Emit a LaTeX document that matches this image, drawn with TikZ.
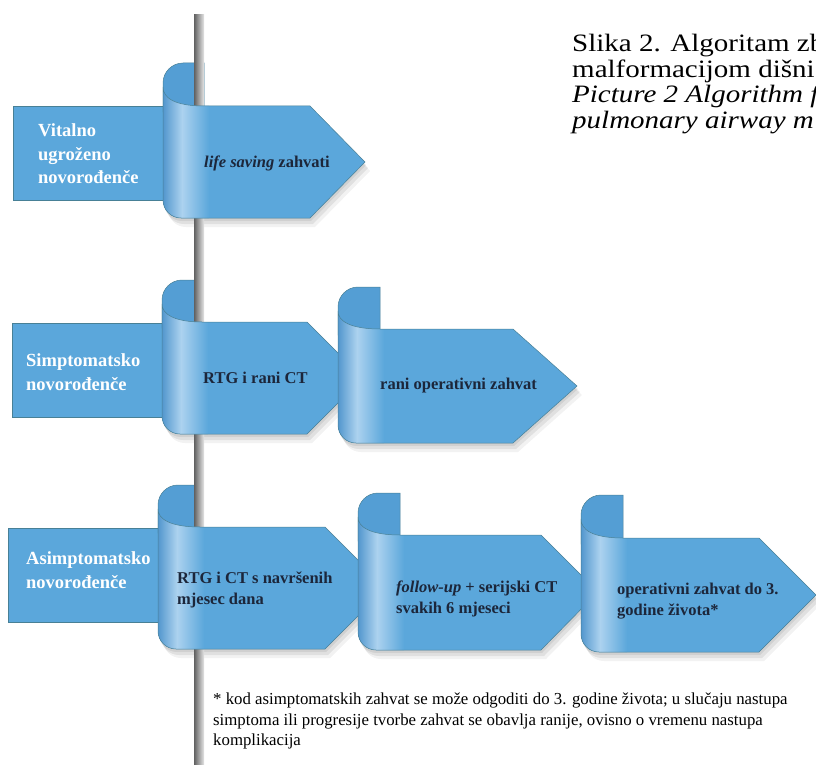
\documentclass[tikz,border=0pt]{standalone}
\usepackage{fontspec}
\setmainfont{Liberation Serif}
\definecolor{rb}{RGB}{91,167,219}
\definecolor{rbback}{RGB}{84,158,212}
\definecolor{rbdark}{RGB}{78,148,204}
\definecolor{rblight}{RGB}{172,210,239}
\definecolor{txtc}{RGB}{28,38,58}
\definecolor{edgec}{RGB}{72,128,150}
\newcommand\frontpath[8]{(#1,#2+24) -- (#1,#5-18) .. controls (#1,#5-8) and (#1+8,#5) .. (#1+18,#5) -- (#6,#5) -- (#7,#8) -- (#6,#4) -- (#3,#4) .. controls (#1+12,#4) and (#1,#4-8) .. (#1,#2+24) -- cycle}
\newcommand\backpath[5]{(#1,#2+20) .. controls (#1,#2+9) and (#1+9,#2) .. (#1+20,#2) -- (#3,#2) -- (#3,#4+6) -- (#1,#4+6) -- cycle}
% L T R FT B C X M
\newcommand\arrowshadow[8]{%
  \fill[black,opacity=0.07] [shift={(1,3)}] \frontpath{#1}{#2}{#3}{#4}{#5}{#6}{#7}{#8};
  \fill[black,opacity=0.07] [shift={(3,6)}] \frontpath{#1}{#2}{#3}{#4}{#5}{#6}{#7}{#8};
  \fill[black,opacity=0.05] [shift={(5,9)}] \frontpath{#1}{#2}{#3}{#4}{#5}{#6}{#7}{#8};}
\newcommand\arrowback[8]{%
  \fill[rbback,draw=edgec,line width=0.5pt] \backpath{#1}{#2}{#3}{#4}{#5};}
\newcommand\arrowfront[8]{%
  \fill[rb] \frontpath{#1}{#2}{#3}{#4}{#5}{#6}{#7}{#8};
  \begin{scope}
    \clip \frontpath{#1}{#2}{#3}{#4}{#5}{#6}{#7}{#8};
    \shade[left color=rbdark,right color=rblight] (#1-1,#2) rectangle (#1+19,#5+1);
    \shade[left color=rblight,right color=rb] (#1+19,#2) rectangle (#1+46,#5+1);
  \end{scope}
  \draw[edgec,line width=0.5pt] \frontpath{#1}{#2}{#3}{#4}{#5}{#6}{#7}{#8};}
\newcommand\wide[1]{\scalebox{1.16}[1]{#1}}
\tikzset{
  leftbox/.style={fill=rb,draw=edgec,line width=0.4pt},
  lefttxt/.style={text=white,font=\fontsize{18.5}{23.5}\selectfont\bfseries,align=left,anchor=west,inner sep=0pt},
  arrtxt/.style={text=txtc,font=\fontsize{16.5}{21}\selectfont\bfseries,align=left,anchor=west,inner sep=0pt},
  titletxt/.style={text=black,font=\fontsize{25}{25}\selectfont,anchor=base west,inner sep=0pt},
  notetxt/.style={text=black,font=\fontsize{16.8}{20.5}\selectfont,align=left,anchor=north west,inner sep=0pt}
}
\begin{document}
\begin{tikzpicture}[x=1pt,y=-1pt]
\useasboundingbox (0,0) rectangle (816,765);
\fill[white] (0,0) rectangle (816,765);
\clip (0,0) rectangle (816,765);

% left boxes
\fill[leftbox] (13,106) rectangle (170,200);
\fill[leftbox] (12,323) rectangle (170,417);
\fill[leftbox] (8,528) rectangle (165,622);

% shadows
\arrowshadow{163}{63}{204}{106}{218}{310}{365}{162}
\arrowshadow{162}{280}{202}{322}{434}{307}{363}{378}
\arrowshadow{338}{287}{380}{329}{443}{513}{577}{386}
\arrowshadow{158}{485}{200}{527}{649}{325}{386}{588}
\arrowshadow{358}{493}{400}{535}{650}{541}{598}{592}
\arrowshadow{581}{495}{623}{538}{652}{759}{816}{595}

% backs
\arrowback{163}{63}{204}{106}{218}{310}{365}{162}
\arrowback{162}{280}{202}{322}{434}{307}{363}{378}
\arrowback{338}{287}{380}{329}{443}{513}{577}{386}
\arrowback{158}{485}{200}{527}{649}{325}{386}{588}
\arrowback{358}{493}{400}{535}{650}{541}{598}{592}
\arrowback{581}{495}{623}{538}{652}{759}{816}{595}

% pole
\shade[left color=black!62,right color=black!10] (194,15) rectangle (204,765);

% fronts
\arrowfront{163}{63}{204}{106}{218}{310}{365}{162}
\arrowfront{162}{280}{202}{322}{434}{307}{363}{378}
\arrowfront{338}{287}{380}{329}{443}{513}{577}{386}
\arrowfront{158}{485}{200}{527}{649}{325}{386}{588}
\arrowfront{358}{493}{400}{535}{650}{541}{598}{592}
\arrowfront{581}{495}{623}{538}{652}{759}{816}{595}

% left texts
\node[lefttxt] (l1) at (38,154) {Vitalno\\ugroženo\\novorođenče};
\node[lefttxt] (l2) at (26,372) {Simptomatsko\\novorođenče};
\node[lefttxt] (l3) at (26,570) {Asimptomatsko\\novorođenče};

% arrow texts
\node[arrtxt] (a1) at (204,163) {\textit{life saving} zahvati};
\node[arrtxt] (a2) at (203,378) {RTG i rani CT};
\node[arrtxt] (a3) at (380,386) {rani operativni zahvat};
\node[arrtxt] (a4) at (177,590) {RTG i CT s navršenih\\mjesec dana};
\node[arrtxt] (a5) at (396,599) {\textit{follow-up} + serijski CT\\svakih 6 mjeseci};
\node[arrtxt] (a6) at (617,601) {operativni zahvat do 3.\\godine života*};

% title
\node[titletxt] (t1) at (572,52) {\wide{Slika 2. Algoritam zb}};
\node[titletxt] (t2) at (572,77.5) {\wide{malformacijom dišni}};
\node[titletxt] (t3) at (572,103) {\wide{\textit{Picture 2 Algorithm f}}};
\node[titletxt] (t4) at (572,128.5) {\wide{\textit{pulmonary airway m}}};

% footnote
\node[notetxt] (fn) at (213,693) {* kod asimptomatskih zahvat se može odgoditi do 3. godine života; u slučaju nastupa\\simptoma ili progresije tvorbe zahvat se obavlja ranije, ovisno o vremenu nastupa\\komplikacija};
\end{tikzpicture}
\end{document}
